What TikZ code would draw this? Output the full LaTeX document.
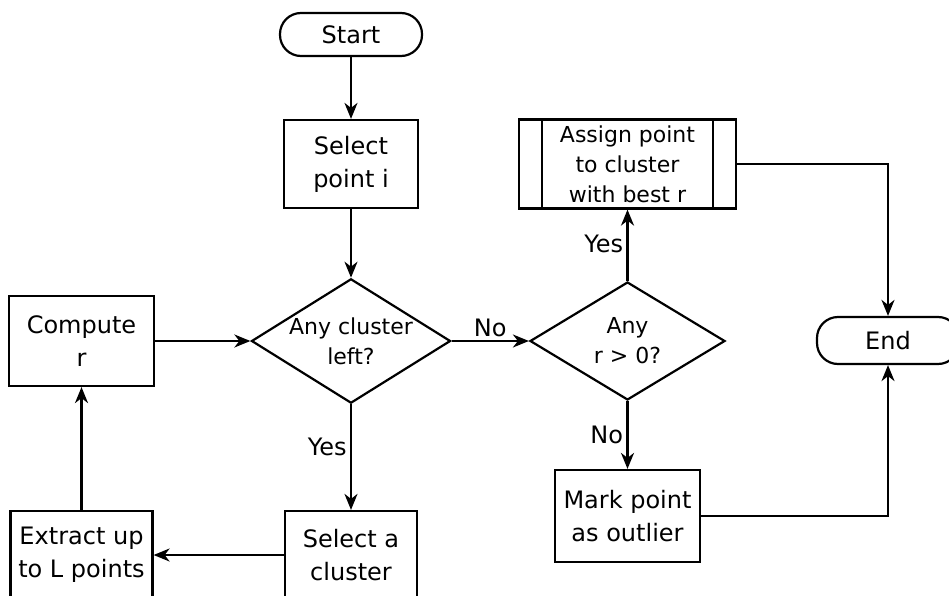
\documentclass[tikz,border=0pt]{standalone}
\usepackage{fontspec}
\setmainfont{DejaVu Sans}
\usetikzlibrary{arrows.meta,shapes.geometric,calc}
\begin{document}
\begin{tikzpicture}[x=1pt,y=-1pt,line width=2.2pt,
  big/.style={font=\fontsize{24}{33}\selectfont},
  small/.style={font=\fontsize{22}{30}\selectfont},
  box/.style={draw,rectangle,align=center,inner sep=0pt},
  term/.style={draw,rectangle,rounded corners=21pt,align=center,inner sep=0pt},
  decide/.style={draw,diamond,aspect=1.6,align=center,inner sep=0pt},
  flow/.style={-{Stealth[length=16pt,width=13pt,inset=5pt]}},
  lbl/.style={big}]
\useasboundingbox (0,0) rectangle (949,596);

% terminators
\node[term,big,minimum width=142pt,minimum height=43pt] (start) at (351,34.5) {Start};
\node[term,big,minimum width=142pt,minimum height=47pt] (finish) at (888,340.5) {End};

% process boxes
\node[box,big,minimum width=134pt,minimum height=88pt] (selpt) at (351,164) {Select\\point i};
\node[box,big,minimum width=145pt,minimum height=90pt] (comp) at (81.5,341) {Compute\\r};
\node[box,big,minimum width=132pt,minimum height=88pt] (selcl) at (351,555) {Select a\\cluster};
\node[box,big,minimum width=142pt,minimum height=88pt] (extr) at (81.5,555) {Extract up\\to L points};
\node[box,big,minimum width=145pt,minimum height=92pt] (mark) at (627.5,516) {Mark point\\as outlier};

% predefined process
\node[box,small,minimum width=217pt,minimum height=89pt] (assign) at (627.5,164) {Assign point\\to cluster\\with best r};
\draw ($(assign.north west)+(24,0)$) -- ($(assign.south west)+(24,0)$);
\draw ($(assign.north east)+(-24,0)$) -- ($(assign.south east)+(-24,0)$);

% decisions
\node[decide,small,minimum width=193pt,minimum height=120pt] (anycl) at (351,341) {Any cluster\\left?};
\node[decide,small,minimum width=195pt,minimum height=118pt] (anyr) at (627.5,341) {Any\\r > 0?};

% connectors
\draw[flow] (start) -- (selpt);
\draw[flow] (selpt) -- (anycl);
\draw[flow] (comp.east) -- (anycl.west);
\draw[flow] (anycl.south) -- node[lbl,left,pos=0.4] {Yes} (selcl.north);
\draw[flow] (selcl.west) -- (extr.east);
\draw[flow] (extr) -- (comp);
\draw[flow] (anycl.east) -- node[lbl,above,pos=0.5] {No} (anyr.west);
\draw[flow] (anyr.north) -- node[lbl,left,pos=0.52] {Yes} (assign.south);
\draw[flow] (anyr.south) -- node[lbl,left,pos=0.5] {No} (mark.north);
\draw[flow] (assign.east) -| (finish.north);
\draw[flow] (mark.east) -| (finish.south);
\end{tikzpicture}
\end{document}
